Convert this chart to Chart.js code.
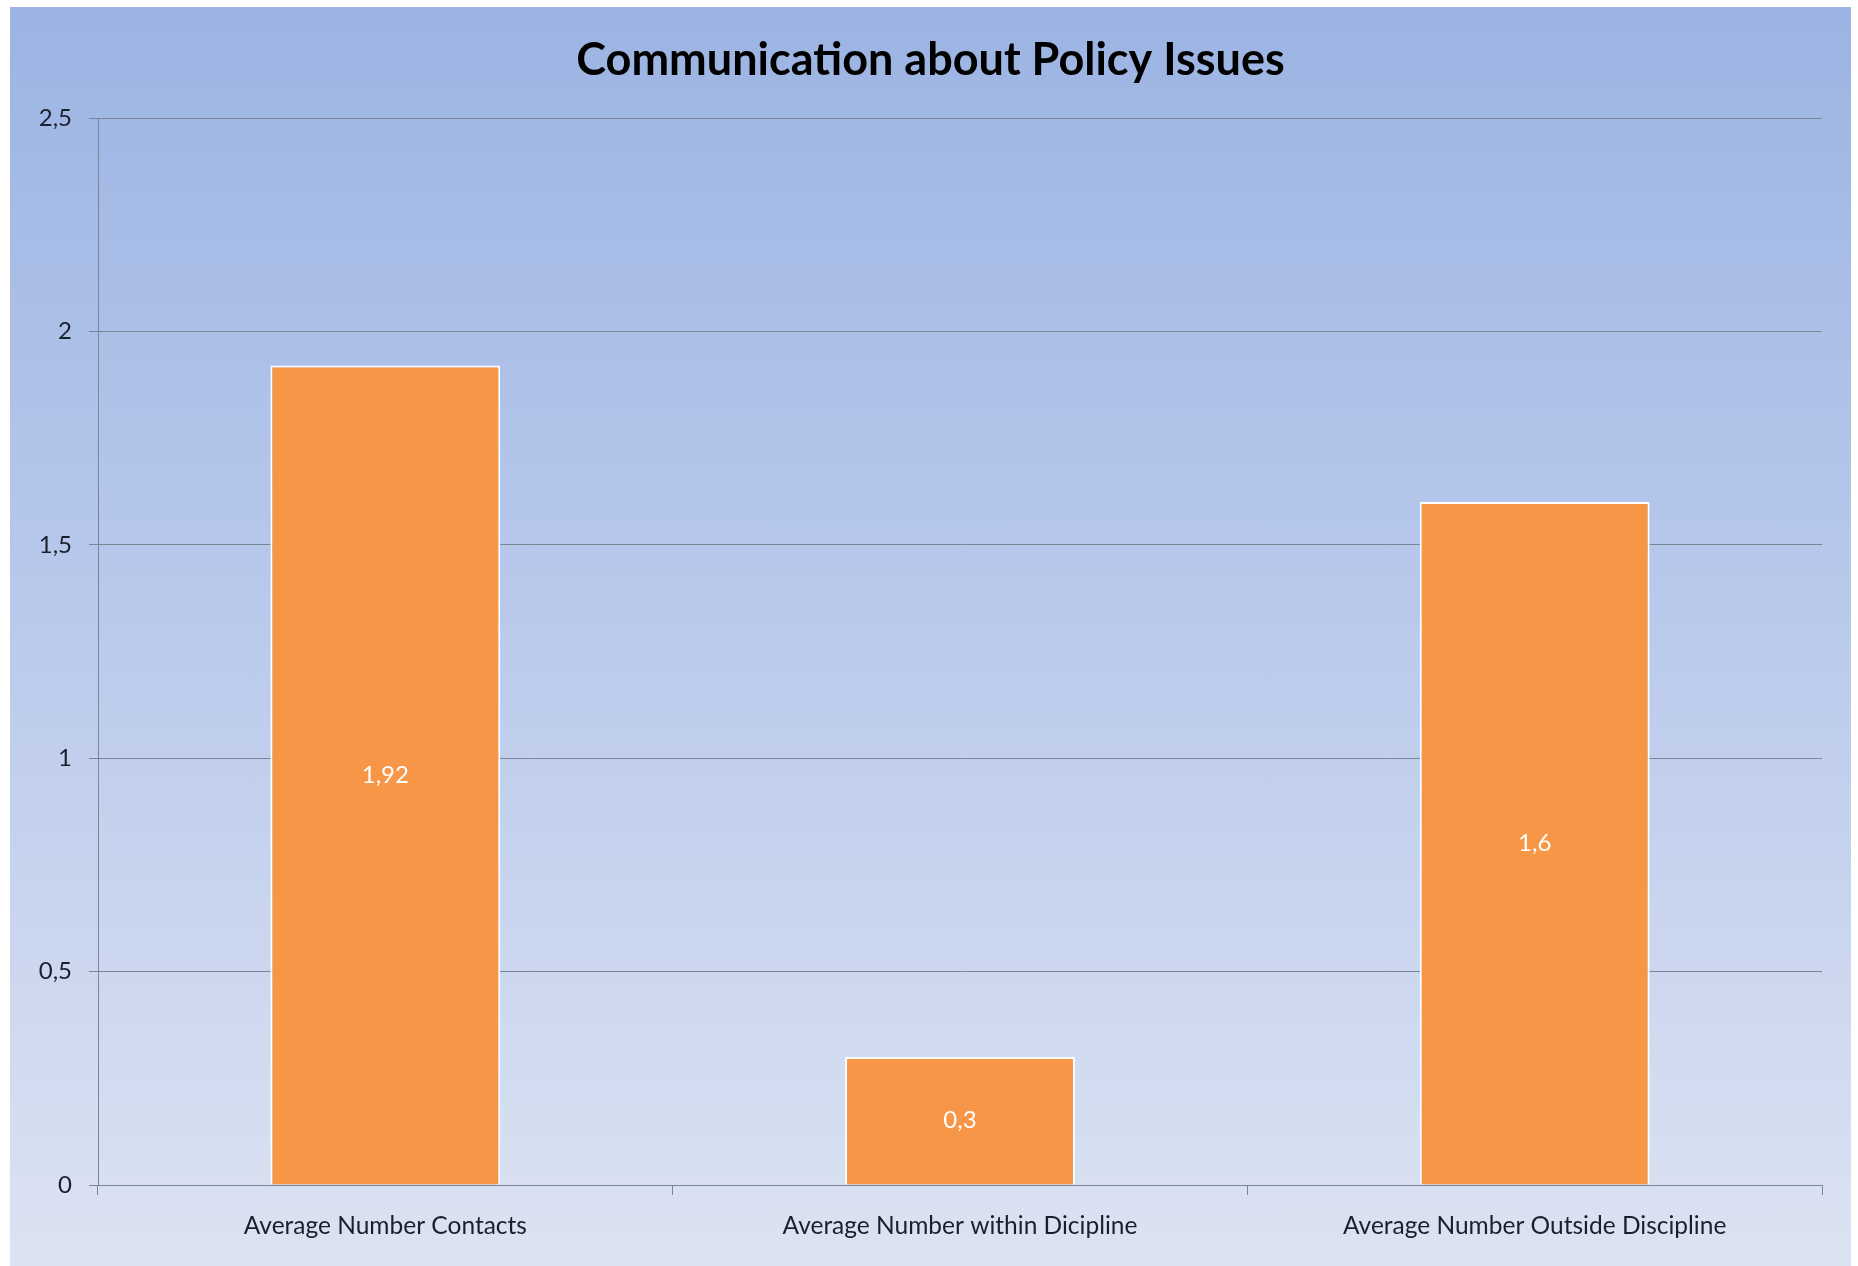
<!DOCTYPE html>
<html>
<head>
<meta charset="utf-8">
<script src="https://cdn.jsdelivr.net/npm/chart.js@4/dist/chart.umd.min.js"></script>
<style>
    html, body { margin: 0; padding: 0; background: #ffffff; }
    body { width: 1858px; height: 1266px; position: relative; overflow: hidden; }
    #panel {
        position: absolute; left: 10px; top: 7px; width: 1841px; height: 1259px;
        background: linear-gradient(to bottom, #9cb4e3 0%, #b7c8eb 45%, #dce3f2 100%);
    }
    #policyChart { display: block; }
</style>
</head>
<body>
<div id="panel"><canvas id="policyChart" width="1841" height="1259"></canvas></div>
<script>
// Kategori dan nilai rata-rata
const categories = [
    "Average Number Contacts",
    "Average Number within Dicipline",
    "Average Number Outside Discipline"
];
const averages = [1.92, 0.3, 1.6];
const yTicks = [0, 0.5, 1, 1.5, 2, 2.5];

const FONT = "Lato, 'Open Sans', sans-serif";

// angka pakai koma desimal
const fmt = v => String(v).replace('.', ',');

// tulis nilai di tengah batang
const barValueLabels = {
    id: 'barValueLabels',
    afterDatasetsDraw(chart) {
        const ctx = chart.ctx;
        const meta = chart.getDatasetMeta(0);
        ctx.save();
        ctx.fillStyle = '#ffffff';
        ctx.font = '24px ' + FONT;
        ctx.textAlign = 'center';
        ctx.textBaseline = 'middle';
        meta.data.forEach((bar, i) => {
            const p = bar.getProps(['x', 'y', 'base'], true);
            ctx.fillText(fmt(averages[i]), p.x, (p.y + p.base) / 2);
        });
        ctx.restore();
    }
};

const ctx = document.getElementById('policyChart').getContext('2d');
new Chart(ctx, {
    type: 'bar',
    data: {
        labels: categories,
        datasets: [{
            data: averages,
            backgroundColor: '#f79646',
            borderColor: '#ffffff',
            borderWidth: 2,
            barPercentage: 0.4,
            categoryPercentage: 1
        }]
    },
    plugins: [barValueLabels],
    options: {
        responsive: false,
        animation: false,
        layout: { padding: { left: 29, right: 29, top: 0, bottom: 0 } },
        plugins: {
            legend: { display: false },
            tooltip: { enabled: false },
            title: {
                display: true,
                text: 'Communication about Policy Issues',
                color: '#000000',
                font: { family: FONT, size: 45, weight: 'bold', lineHeight: 1.2 },
                padding: { top: 26, bottom: 31 }
            }
        },
        scales: {
            x: {
                grid: {
                    offset: true,
                    drawOnChartArea: false,
                    tickLength: 10,
                    color: '#7a8598'
                },
                border: { color: '#7a8598', width: 1 },
                ticks: {
                    color: '#1a1f2e',
                    font: { family: FONT, size: 24.5 },
                    padding: 16,
                    maxRotation: 0
                },
                afterFit(scale) { scale.height = 81; }
            },
            y: {
                min: 0,
                max: 2.5,
                afterBuildTicks(scale) {
                    scale.ticks = yTicks.map(v => ({ value: v }));
                },
                grid: {
                    color: '#7a8598',
                    tickLength: 9,
                    lineWidth: 1
                },
                border: { color: '#7a8598', width: 1 },
                ticks: {
                    color: '#1a1f2e',
                    font: { family: FONT, size: 24 },
                    padding: 17,
                    callback: v => fmt(v)
                },
                afterFit(scale) { scale.width = 59; }
            }
        }
    }
});
</script>
</body>
</html>
